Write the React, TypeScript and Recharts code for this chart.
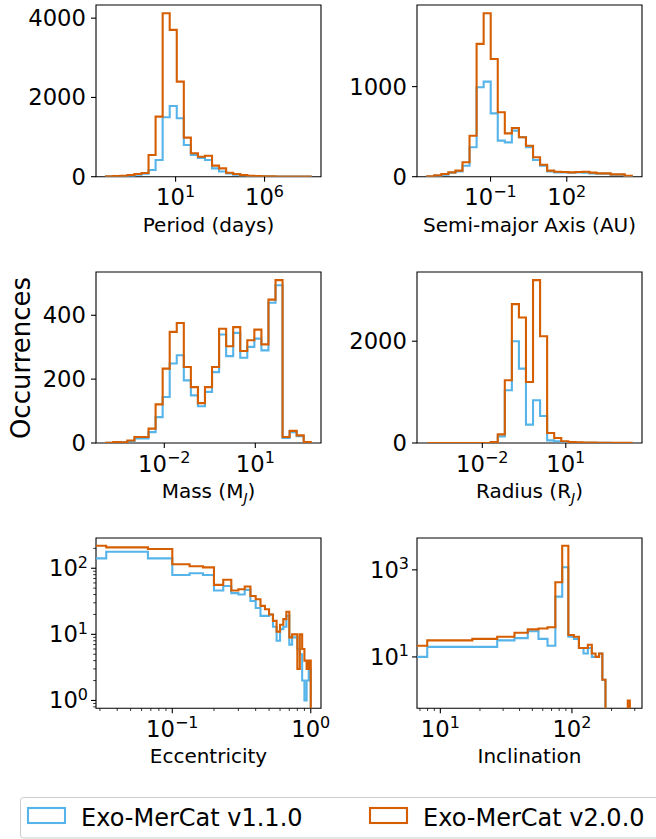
import React from 'react';
import { LineChart, Line, XAxis, YAxis, ReferenceArea } from 'recharts';

const FONT = '"DejaVu Sans", sans-serif';
const BLUE = '#56B4E9';
const ORANGE = '#D55E00';
const TICK_FS = 22.7;
const SUP_FS = 16;
const PLOT_W = 225;

// log-binned panels: 29 bins, exponent of first / last edge
const PERIOD_EXP = [-2.9, 8.6];
const SMA_EXP = [-3.49, 4.557];
const MASS_EXP = [-3.915, 2.829];
const RADIUS_EXP = [-3.981, 3.373];
// linear bins (30) for eccentricity and inclination
const ECC_RANGE = [0, 1];
const INC_RANGE = [-1.6, 284.9];

// counts: v1 = Exo-MerCat v1.1.0, v2 = Exo-MerCat v2.0.0
const PERIOD_V1 = [4, 8, 17, 25, 50, 76, 168, 420, 1500, 1785, 1475, 800, 550, 470, 420, 210, 130, 80, 50, 30, 18, 10, 7, 5, 3, 2, 2, 1, 1];
const PERIOD_V2 = [8, 17, 25, 42, 67, 93, 547, 1516, 4126, 3705, 2400, 985, 590, 505, 530, 280, 210, 100, 67, 40, 25, 15, 10, 8, 5, 4, 3, 2, 1];

const SMA_V1 = [2, 11, 22, 44, 59, 122, 326, 993, 1055, 703, 400, 381, 511, 437, 326, 185, 122, 59, 48, 48, 44, 48, 44, 37, 33, 33, 22, 22, 7];
const SMA_V2 = [4, 15, 30, 48, 67, 160, 455, 1474, 1815, 1307, 715, 481, 540, 437, 344, 215, 133, 67, 55, 52, 48, 52, 55, 45, 37, 37, 26, 26, 11];

const MASS_V1 = [1, 2, 2, 6, 14, 14, 34, 81, 144, 249, 275, 196, 149, 115, 160, 222, 340, 272, 345, 267, 301, 327, 290, 439, 494, 16, 34, 21, 2];
const MASS_V2 = [1, 3, 2, 8, 19, 19, 45, 121, 233, 348, 376, 238, 175, 125, 175, 238, 358, 303, 363, 288, 322, 355, 309, 449, 510, 19, 38, 24, 3];

const RADIUS_V1 = [0, 0, 0, 0, 0, 0, 0, 0, 0, 13, 131, 1036, 2000, 1462, 361, 839, 531, 52, 33, 13, 7, 4, 3, 3, 2, 2, 1, 1, 1];
const RADIUS_V2 = [0, 0, 0, 0, 0, 0, 0, 0, 1, 20, 170, 1233, 2728, 2466, 1200, 3200, 2098, 197, 98, 33, 20, 13, 7, 7, 5, 4, 6, 3, 2];

const ECC_V1 = [141, 178, 141, 79, 84, 79, 46, 54, 42, 40, 47, 32, 25, 19, 19, 20, 13, 8, 12, 13, 19, 7, 9, 9, 6, 5, 2, 1, 2, 3];
const ECC_V2 = [219, 207, 195, 115, 107, 103, 56, 67, 46, 48, 53, 38, 34, 27, 24, 20, 16, 11, 14, 17, 22, 9, 10, 10, 3, 10, 6, 4, 3, 4];

const INC_V1 = [10, 17, 17, 24, 27, 39, 26, 18, 243, 1150, 29, 26, 16, 12, 16, 10, 10, 12, 3, 0, 0, 0, 0, 0, 0, 0, 0, 0, 0, 0];
const INC_V2 = [18, 24, 26, 29, 36, 43, 45, 48, 518, 3580, 32, 29, 16, 16, 19, 12, 10, 12, 3, 0, 0, 0, 0, 0, 0, 0, 0, 0, 1, 0];

// ticks
const PERIOD_XTICKS = [10, 1e6];
const SMA_XTICKS = [0.1, 100];
const MASS_XTICKS = [0.01, 10];
const RADIUS_XTICKS = [0.01, 10];
const ECC_XMAJOR = [0.1, 1];
const ECC_XMINOR = [0.03, 0.04, 0.05, 0.06, 0.07, 0.08, 0.09, 0.2, 0.3, 0.4, 0.5, 0.6, 0.7, 0.8, 0.9];
const INC_XMAJOR = [10, 100];
const INC_XMINOR = [7, 8, 9, 20, 30, 40, 50, 60, 70, 80, 90, 200, 300];

const PERIOD_YTICKS = [0, 2000, 4000];
const SMA_YTICKS = [0, 1000];
const MASS_YTICKS = [0, 200, 400];
const RADIUS_YTICKS = [0, 2000];
const ECC_YMAJOR = [1, 10, 100];
const ECC_YMINOR = [0.8, 0.9, 2, 3, 4, 5, 6, 7, 8, 9, 20, 30, 40, 50, 60, 70, 80, 90, 200];
const INC_YMAJOR = [10, 1000];

const logEdges = (exp: number[], n: number) =>
  Array.from({ length: n + 1 }, (_, i) => Math.pow(10, exp[0] + ((exp[1] - exp[0]) * i) / n));
const linEdges = (r: number[], n: number) =>
  Array.from({ length: n + 1 }, (_, i) => r[0] + ((r[1] - r[0]) * i) / n);

const TINY = 1e-6; // stands in for <=0 on a log axis, lands off the plot and is clipped

// step outline like histtype='step'
function outline(edges: number[], v1: number[], v2: number[], logY: boolean) {
  const px = (x: number) => (x > 0 ? x : TINY);
  const py = (v: number) => (logY && v <= 0 ? TINY : v);
  const base = logY ? TINY : 0;
  const pts = [{ x: px(edges[0]), v1: base, v2: base }];
  v1.forEach((_, i) => {
    pts.push({ x: px(edges[i]), v1: py(v1[i]), v2: py(v2[i]) });
    pts.push({ x: px(edges[i + 1]), v1: py(v1[i]), v2: py(v2[i]) });
  });
  pts.push({ x: px(edges[edges.length - 1]), v1: base, v2: base });
  return pts;
}

// matplotlib-like 5% margin in log space
function logLim(lo: number, hi: number) {
  const a = Math.log10(lo);
  const b = Math.log10(hi);
  const m = (b - a) * 0.05;
  return [Math.pow(10, a - m), Math.pow(10, b + m)];
}

function expLabel(v: number) {
  const e = Math.round(Math.log10(v));
  return [
    <tspan key="b">10</tspan>,
    <tspan key="e" dy={-8.5} fontSize={SUP_FS}>{e < 0 ? `\u2212${-e}` : `${e}`}</tspan>,
  ];
}

function XTick(props: any) {
  const { x, y, payload, major } = props;
  const isMajor = major.includes(payload.value);
  return (
    <g>
      <line x1={x} x2={x} y1={y} y2={y + (isMajor ? 5 : 2.8)} stroke="#000" strokeWidth={isMajor ? 1.1 : 0.8} />
      {isMajor && (
        <text x={x} y={y + 28.5} textAnchor="middle" fontFamily={FONT} fontSize={TICK_FS} fill="#000">
          {expLabel(payload.value)}
        </text>
      )}
    </g>
  );
}

function YTick(props: any) {
  const { x, y, payload, major, log } = props;
  const isMajor = major.includes(payload.value);
  return (
    <g>
      <line x1={x - (isMajor ? 5 : 2.8)} x2={x} y1={y} y2={y} stroke="#000" strokeWidth={isMajor ? 1.1 : 0.8} />
      {isMajor && (
        <text x={x - (log ? 8 : 10)} y={y + 8} textAnchor="end" fontFamily={FONT} fontSize={TICK_FS} fill="#000">
          {log ? expLabel(payload.value) : String(payload.value)}
        </text>
      )}
    </g>
  );
}

function AxisTitle(props: any) {
  const { viewBox, caption } = props;
  if (!viewBox) return null;
  return (
    <text x={viewBox.x + viewBox.width / 2} y={viewBox.y + 55} textAnchor="middle" fontFamily={FONT} fontSize={20} fill="#000">
      {caption}
    </text>
  );
}

const sub = (main: string, s: string) => [
  <tspan key="a">{main}</tspan>,
  <tspan key="b" dy={5} fontSize={14} fontStyle="italic">{s}</tspan>,
  <tspan key="c" dy={-5}>)</tspan>,
];

type Panel = {
  key: string;
  left: number;
  top: number;
  h: number;
  edges: number[];
  v1: number[];
  v2: number[];
  xMajor: number[];
  xMinor?: number[];
  yLog?: boolean;
  yMajor: number[];
  yMinor?: number[];
  title: React.ReactNode;
};

const COL = [95.7, 416.7];
const ROW = [
  { top: 5, h: 171.7 },
  { top: 271.7, h: 171 },
  { top: 538.3, h: 170.2 },
];

const PANELS: Panel[] = [
  { key: 'period', left: COL[0], ...ROW[0], edges: logEdges(PERIOD_EXP, 29), v1: PERIOD_V1, v2: PERIOD_V2, xMajor: PERIOD_XTICKS, yMajor: PERIOD_YTICKS, title: 'Period (days)' },
  { key: 'sma', left: COL[1], ...ROW[0], edges: logEdges(SMA_EXP, 29), v1: SMA_V1, v2: SMA_V2, xMajor: SMA_XTICKS, yMajor: SMA_YTICKS, title: 'Semi-major Axis (AU)' },
  { key: 'mass', left: COL[0], ...ROW[1], edges: logEdges(MASS_EXP, 29), v1: MASS_V1, v2: MASS_V2, xMajor: MASS_XTICKS, yMajor: MASS_YTICKS, title: sub('Mass (M', 'J') },
  { key: 'radius', left: COL[1], ...ROW[1], edges: logEdges(RADIUS_EXP, 29), v1: RADIUS_V1, v2: RADIUS_V2, xMajor: RADIUS_XTICKS, yMajor: RADIUS_YTICKS, title: sub('Radius (R', 'J') },
  { key: 'ecc', left: COL[0], ...ROW[2], edges: linEdges(ECC_RANGE, 30), v1: ECC_V1, v2: ECC_V2, xMajor: ECC_XMAJOR, xMinor: ECC_XMINOR, yLog: true, yMajor: ECC_YMAJOR, yMinor: ECC_YMINOR, title: 'Eccentricity' },
  { key: 'inc', left: COL[1], ...ROW[2], edges: linEdges(INC_RANGE, 30), v1: INC_V1, v2: INC_V2, xMajor: INC_XMAJOR, xMinor: INC_XMINOR, yLog: true, yMajor: INC_YMAJOR, title: 'Inclination' },
];

function HistPanel({ p }: { p: Panel }) {
  const data = outline(p.edges, p.v1, p.v2, !!p.yLog);
  const posEdges = p.edges.filter((e) => e > 0);
  const xDom = logLim(Math.min(...posEdges), Math.max(...posEdges));
  const all = [...p.v1, ...p.v2];
  const yMax = Math.max(...all);
  const yDom = p.yLog ? logLim(Math.min(...all.filter((v) => v > 0)), yMax) : [0, yMax * 1.05];
  const xTicks = [...p.xMajor, ...(p.xMinor || [])].sort((a, b) => a - b);
  const yTicks = [...p.yMajor, ...(p.yMinor || [])].sort((a, b) => a - b);
  return (
    <div style={{ position: 'absolute', left: p.left - 90, top: p.top - 5 }}>
      <LineChart width={90 + PLOT_W + 10} height={5 + p.h + 70} data={data} margin={{ top: 5, right: 10, bottom: 0, left: 0 }}>
        <XAxis
          dataKey="x"
          type="number"
          scale="log"
          domain={xDom}
          allowDataOverflow
          ticks={xTicks}
          interval={0}
          tickSize={0}
          tickMargin={0}
          tickLine={false}
          axisLine={false}
          height={70}
          tick={(t: any) => <XTick {...t} major={p.xMajor} />}
          label={<AxisTitle caption={p.title} />}
        />
        <YAxis
          type="number"
          scale={p.yLog ? 'log' : 'linear'}
          domain={yDom}
          allowDataOverflow
          ticks={yTicks}
          interval={0}
          tickSize={0}
          tickMargin={0}
          tickLine={false}
          axisLine={false}
          width={90}
          tick={(t: any) => <YTick {...t} major={p.yMajor} log={p.yLog} />}
        />
        <Line type="linear" dataKey="v1" stroke={BLUE} strokeWidth={2.1} strokeLinejoin="miter" dot={false} activeDot={false} isAnimationActive={false} />
        <Line type="linear" dataKey="v2" stroke={ORANGE} strokeWidth={2.1} strokeLinejoin="miter" dot={false} activeDot={false} isAnimationActive={false} />
        <ReferenceArea x1={xDom[0]} x2={xDom[1]} y1={yDom[0]} y2={yDom[1]} fill="none" stroke="#000" strokeWidth={1.1} ifOverflow="visible" />
      </LineChart>
    </div>
  );
}

const LEGEND = [
  { name: 'Exo-MerCat v1.1.0', color: BLUE, x: 28 },
  { name: 'Exo-MerCat v2.0.0', color: ORANGE, x: 370 },
];

export default function App() {
  return (
    <div style={{ position: 'absolute', left: 0, top: 0, width: 656, height: 839, background: '#fff', overflow: 'hidden', fontFamily: FONT }}>
      {PANELS.map((p) => (
        <HistPanel key={p.key} p={p} />
      ))}
      <svg width={656} height={839} style={{ position: 'absolute', left: 0, top: 0, pointerEvents: 'none' }}>
        <text transform="translate(30, 358) rotate(-90)" textAnchor="middle" fontFamily={FONT} fontSize={26} fill="#000">
          Occurrences
        </text>
        <rect x={20.5} y={797.5} width={660} height={40.5} rx={3} fill="#fff" stroke="#cccccc" strokeWidth={1} />
        {LEGEND.map((l) => (
          <g key={l.name}>
            <rect x={l.x} y={808} width={37} height={15} fill="none" stroke={l.color} strokeWidth={2.1} />
            <text x={l.x + 53} y={825.5} fontFamily={FONT} fontSize={24} fill="#000">
              {l.name}
            </text>
          </g>
        ))}
      </svg>
    </div>
  );
}
